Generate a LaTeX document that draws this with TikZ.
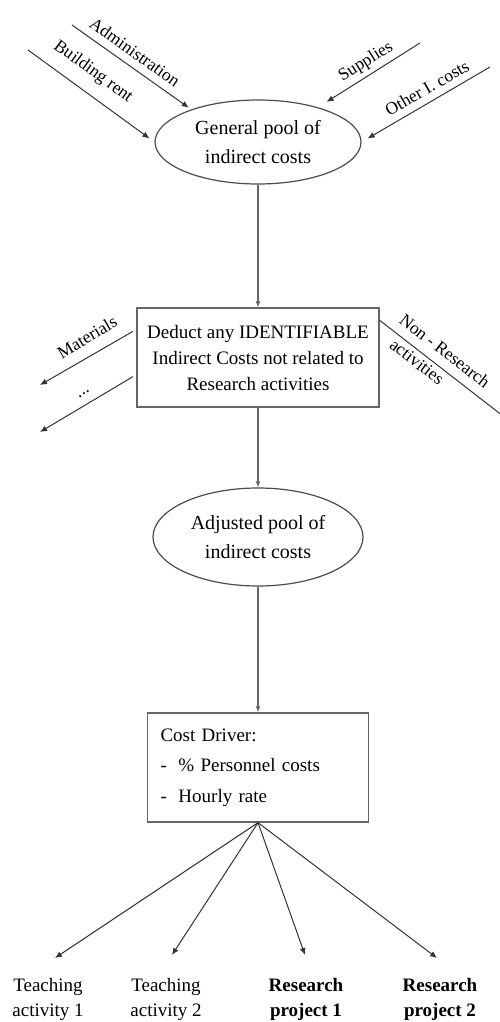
\documentclass[tikz,border=0pt]{standalone}
\usepackage{fontspec}
\setmainfont{Liberation Serif}
\usetikzlibrary{arrows.meta,shapes.geometric}
\begin{document}
\begin{tikzpicture}[x=1pt,y=-1pt,
  arr/.style={draw=black!80, line width=1pt, -{Latex[length=7pt,width=6pt]}},
  vline/.style={draw=black!60, line width=1.1pt, -{Latex[length=6pt,width=5pt]}},
  pool/.style={ellipse, draw=black!70, line width=1.2pt, inner sep=0pt, align=center, font=\fontsize{20}{29}\selectfont},
  boxn/.style={rectangle, draw=black!60, line width=1.3pt, inner sep=0pt},
  lbl/.style={font=\fontsize{17.5}{20}\selectfont, inner sep=0pt},
  tgt/.style={align=center, font=\fontsize{19}{25}\selectfont, inner sep=0pt},
  tgtb/.style={align=center, font=\bfseries\fontsize{19}{25}\selectfont, inner sep=0pt}
]
\useasboundingbox (0,0) rectangle (499,1022);

% main nodes
\node[pool, minimum width=206pt, minimum height=84pt] (gp) at (258,142) {General pool of\\indirect costs};
\node[boxn, minimum width=242pt, minimum height=99pt, align=center, font=\fontsize{19}{26}\selectfont] (b1) at (258,357.5) {Deduct any IDENTIFIABLE\\Indirect Costs not related to\\Research activities};
\node[pool, minimum width=210pt, minimum height=98pt] (ap) at (258,537) {Adjusted pool of\\indirect costs};
\node[boxn, minimum width=221pt, minimum height=109pt, align=left, text width=195pt, font=\fontsize{19}{30.5}\selectfont] (b2) at (258,767.5) {Cost Driver:\\\makebox[18pt][l]{-}\% Personnel costs\\\makebox[18pt][l]{-}Hourly rate};

% bottom targets
\node[tgt] (t1) at (48,999.5) {Teaching\\activity 1};
\node[tgt] (t2) at (166,999.5) {Teaching\\activity 2};
\node[tgtb] (r1) at (306,999.5) {Research\\project 1};
\node[tgtb] (r2) at (440,999.5) {Research\\project 2};

% incoming cost arrows
\coordinate (s1) at (28,50);
\coordinate (s2) at (72,25);
\coordinate (s3) at (420,43);
\coordinate (s4) at (490,67);
\draw[arr, shorten >=6pt] (s1) -- (gp.west);
\draw[arr, shorten >=3pt] (s2) -- (gp.154);
\draw[arr, shorten >=10pt] (s3) -- (gp.30);
\draw[arr, shorten >=7pt] (s4) -- (gp.east);
\node[lbl, rotate=-36] (lb1) at (93,72) {Building rent};
\node[lbl, rotate=-35.5] (lb2) at (135,52) {Administration};
\node[lbl, rotate=31.8] (lb3) at (366,62) {Supplies};
\node[lbl, rotate=30] (lb4) at (427,88) {Other I. costs};

% deductions
\coordinate (m1) at (40,385);
\coordinate (m2) at (40,432);
\coordinate (nr) at (512,423);
\draw[arr, shorten <=4pt] (b1.167) -- (m1);
\draw[arr, shorten <=4pt] (b1.188) -- (m2);
\draw[arr] (b1.17) -- (nr);
\node[lbl, rotate=31] (lm) at (87,337) {Materials};
\node[lbl, rotate=31] (ld) at (84,394) {...};
\node[lbl, rotate=-37.7] (ln) at (445,351) {Non - Research};
\node[lbl, rotate=-37.7] (la) at (417,362) {activities};

% vertical flow
\draw[vline] (gp) -- (b1);
\draw[vline] (b1) -- (ap);
\draw[vline] (ap) -- (b2);

% allocation
\coordinate (e1) at (55,958);
\coordinate (e2) at (172,955);
\coordinate (e3) at (305,955);
\coordinate (e4) at (437,958);
\draw[arr] (b2.south) -- (e1);
\draw[arr] (b2.south) -- (e2);
\draw[arr] (b2.south) -- (e3);
\draw[arr] (b2.south) -- (e4);
\end{tikzpicture}
\end{document}
